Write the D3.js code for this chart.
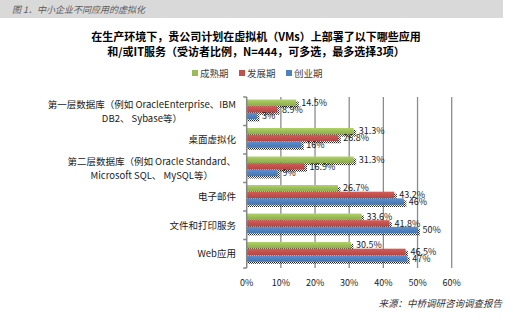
<!DOCTYPE html>
<html>
<head>
<meta charset="utf-8">
<script src="https://cdn.jsdelivr.net/npm/d3@7"></script>
<style>
  html, body { margin: 0; padding: 0; background: #fff; }
  svg { display: block; }
  text { font-family: "Noto Sans CJK SC", "Noto Sans", sans-serif; }
</style>
</head>
<body>
<svg id="chart" width="513" height="334"></svg>
<script>
const headerText = "图 1．中小企业不同应用的虚拟化";
const titleLines = ["在生产环境下，贵公司计划在虚拟机（VMs）上部署了以下哪些应用",
                    "和/或IT服务（受访者比例，N=444，可多选，最多选择3项）"];
const sourceText = "来源：中桥调研咨询调查报告";
const categories = [
  "第一层数据库（例如 OracleEnterprise、IBM\nDB2、 Sybase等）",
  "桌面虚拟化",
  "第二层数据库（例如 Oracle Standard、\nMicrosoft SQL、 MySQL等）",
  "电子邮件",
  "文件和打印服务",
  "Web应用"
];
const seriesNames = ["成熟期", "发展期", "创业期"];
const seriesColors = ["#9bbb59", "#c0504d", "#4f81bd"];
const mature  = [14.5, 31.3, 31.3, 26.7, 33.6, 30.5];
const growth  = [8.9, 26.8, 16.9, 43.2, 41.8, 46.5];
const startup = [3, 16, 9, 46, 50, 47];
const xTicks  = [0, 10, 20, 30, 40, 50, 60];

const seriesValues = [mature, growth, startup];

const svg = d3.select("#chart");

// pattern for dotted shadow
const defs = svg.append("defs");
const pat = defs.append("pattern").attr("id", "dots").attr("patternUnits", "userSpaceOnUse")
  .attr("width", 2).attr("height", 2);
pat.append("rect").attr("x", 0).attr("y", 0).attr("width", 1).attr("height", 1).attr("fill", "#222");
pat.append("rect").attr("x", 1).attr("y", 1).attr("width", 1).attr("height", 1).attr("fill", "#555");
seriesColors.forEach((c, i) => {
  const g = defs.append("linearGradient").attr("id", "grad" + i).attr("x1", 0).attr("y1", 0).attr("x2", 0).attr("y2", 1);
  g.append("stop").attr("offset", "0%").attr("stop-color", d3.color(c).brighter(0.35));
  g.append("stop").attr("offset", "55%").attr("stop-color", c);
  g.append("stop").attr("offset", "100%").attr("stop-color", d3.color(c).darker(0.25));
});

// header band
svg.append("rect").attr("x", 0).attr("y", 0).attr("width", 503).attr("height", 18).attr("fill", "#d9d9d9");
svg.append("text").attr("x", 12).attr("y", 13).attr("font-size", 9).attr("font-style", "italic")
  .attr("fill", "#595959").text(headerText);

// title
svg.selectAll("text.title").data(titleLines).join("text")
  .attr("class", "title")
  .attr("x", 256).attr("y", (d, i) => 41 + i * 15)
  .attr("text-anchor", "middle").attr("font-size", 11).attr("font-weight", "bold")
  .attr("fill", "#000").text(d => d);

// legend
const legendX = [192, 239, 286];
const lg = svg.append("g");
seriesNames.forEach((n, i) => {
  lg.append("rect").attr("x", legendX[i]).attr("y", 70).attr("width", 6).attr("height", 6).attr("fill", seriesColors[i]);
  lg.append("text").attr("x", legendX[i] + 8).attr("y", 76.5).attr("font-size", 9.5)
    .attr("fill", "#404040").text(n);
});

// scales
const x = d3.scaleLinear().domain([0, 60]).range([246.7, 451.7]);
const y0 = d3.scaleBand().domain(categories).range([97, 268]).padding(0);
const y1 = d3.scaleBand().domain(seriesNames).range([2.5, 22.5]).padding(0);

// gridlines
svg.append("g").selectAll("line").data(xTicks.slice(1)).join("line")
  .attr("x1", d => x(d)).attr("x2", d => x(d))
  .attr("y1", 97).attr("y2", 268)
  .attr("stroke", "#8c8c8c").attr("stroke-width", 1.3);

// bars
const bars = [];
categories.forEach((c, ci) => {
  seriesNames.forEach((s, si) => {
    bars.push({ c, s, si, v: seriesValues[si][ci] });
  });
});

const plot = svg.append("g");
plot.selectAll("rect.shadow").data(bars).join("rect")
  .attr("class", "shadow")
  .attr("x", x(0) + 1)
  .attr("y", d => y0(d.c) + y1(d.s) + 2)
  .attr("width", d => x(d.v) - x(0) + 1.5)
  .attr("height", y1.bandwidth())
  .attr("fill", "url(#dots)");
plot.selectAll("rect.bar").data(bars).join("rect")
  .attr("class", "bar")
  .attr("x", x(0))
  .attr("y", d => y0(d.c) + y1(d.s))
  .attr("width", d => x(d.v) - x(0))
  .attr("height", y1.bandwidth() - 0.3)
  .attr("fill", d => "url(#grad" + d.si + ")");

// value labels
plot.selectAll("text.val").data(bars).join("text")
  .attr("class", "val")
  .attr("x", d => x(d.v) + 5)
  .attr("y", d => y0(d.c) + y1(d.s) + y1.bandwidth() / 2)
  .attr("dy", "0.35em")
  .attr("font-size", 9).attr("fill", "#1a1a1a")
  .text(d => d.v + "%");

// left axis
const ax = svg.append("g");
ax.append("line").attr("x1", x(0)).attr("x2", x(0)).attr("y1", 97).attr("y2", 268)
  .attr("stroke", "#868686").attr("stroke-width", 1.5);
const bounds = categories.map(c => y0(c)).concat([268]);
ax.selectAll("line.tick").data(bounds).join("line")
  .attr("class", "tick")
  .attr("x1", x(0) - 3.5).attr("x2", x(0))
  .attr("y1", d => d).attr("y2", d => d)
  .attr("stroke", "#868686").attr("stroke-width", 1.5);

// category labels
const labelRight = 236;
categories.forEach(c => {
  const lines = c.split("\n");
  const cy = y0(c) + y0.bandwidth() / 2;
  const g = svg.append("g");
  const texts = lines.map((ln, i) => g.append("text")
    .attr("y", cy + (i - (lines.length - 1) / 2) * 14)
    .attr("dy", "0.35em")
    .attr("font-size", 9.5).attr("fill", "#1a1a1a").text(ln));
  const maxW = d3.max(texts, t => t.node().getComputedTextLength());
  texts.forEach(t => t.attr("x", labelRight - maxW / 2).attr("text-anchor", "middle"));
});

// x tick labels
svg.append("g").selectAll("text").data(xTicks).join("text")
  .attr("x", d => x(d)).attr("y", 285.5)
  .attr("text-anchor", "middle").attr("font-size", 9).attr("fill", "#1a1a1a")
  .text(d => d + "%");

// source
svg.append("text").attr("x", 502).attr("y", 307).attr("text-anchor", "end")
  .attr("font-size", 9.5).attr("font-style", "italic").attr("fill", "#333")
  .text(sourceText);
</script>
</body>
</html>
